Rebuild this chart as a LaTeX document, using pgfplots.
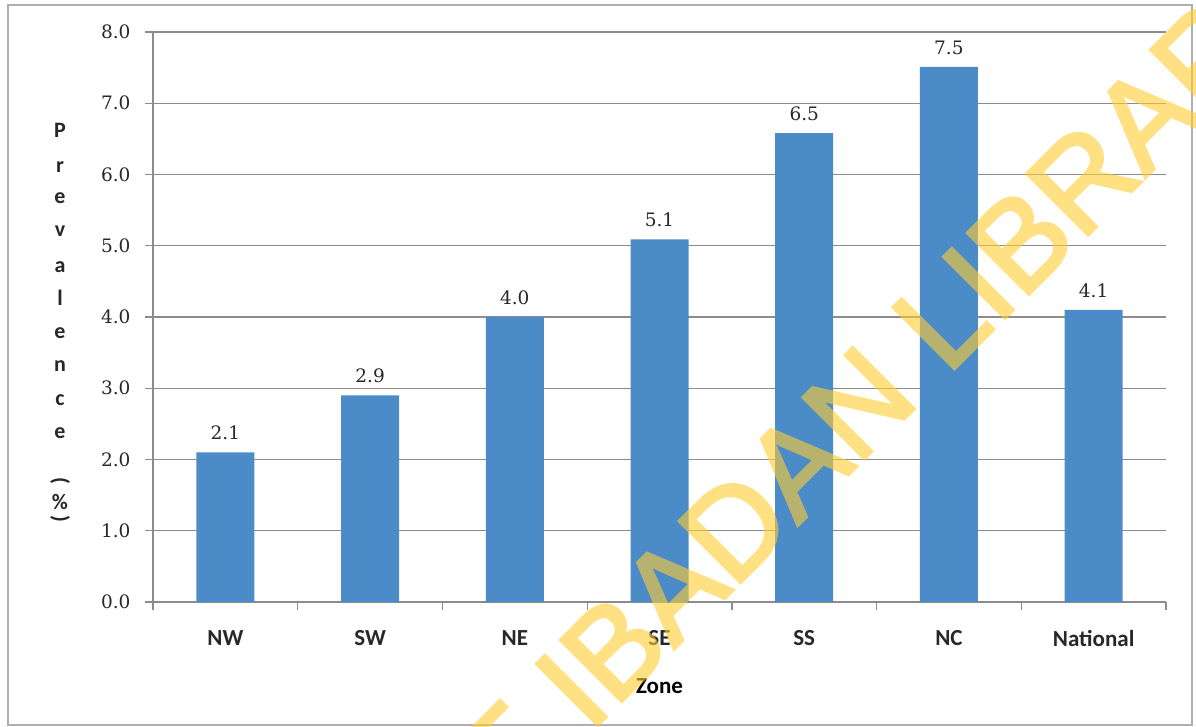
\documentclass[border=0pt]{standalone}
\usepackage{pgfplots}
\pgfplotsset{compat=1.18}
\usepackage{pgfplotstable}
\usepackage{fontspec}
\setmainfont{DejaVu Serif}
\newfontfamily\carlito{Carlito}
\newfontfamily\wmfont[FakeBold=2.5]{Liberation Sans}
\definecolor{barblue}{RGB}{75,140,200}
\definecolor{gridgray}{RGB}{140,140,140}
\definecolor{framegray}{RGB}{175,175,175}
\definecolor{wmyellow}{RGB}{255,205,50}
\definecolor{ticktext}{RGB}{40,40,40}

\pgfplotstableread{
x y label
0 2.10 2.1
1 2.90 2.9
2 4.00 4.0
3 5.09 5.1
4 6.58 6.5
5 7.51 7.5
6 4.10 4.1
}\prevdata

\begin{document}
\begin{tikzpicture}
\fill[white] (0,0) rectangle (1196pt,-727pt);
\draw[framegray, line width=2pt] (8pt,-5pt) rectangle (1192pt,-725pt);
\begin{axis}[
  at={(153pt,-602pt)}, anchor=south west,
  scale only axis, width=1013pt, height=570pt,
  xmin=-0.5, xmax=6.5, ymin=0, ymax=8,
  axis x line*=bottom, axis y line*=left,
  axis line style={gridgray, line width=1.3pt, -},
  ybar, bar width=58pt,
  xtick={0,...,6}, xticklabels={NW,SW,NE,SE,SS,NC,National},
  major x tick style={draw=none},
  minor xtick={-0.5,0.5,...,6.5},
  minor tick length=8pt, major tick length=8pt,
  tick align=outside,
  tick style={gridgray, line width=1.3pt},
  ytick={0,...,8},
  ymajorgrids, major grid style={gridgray, line width=1.3pt},
  yticklabel style={/pgf/number format/fixed, /pgf/number format/fixed zerofill, /pgf/number format/precision=1, /pgf/number format/assume math mode=true, font=\fontsize{18.5}{21}\selectfont, text=ticktext, xshift=-11pt},
  xticklabel style={font=\carlito\bfseries\fontsize{23}{25}\selectfont, text=ticktext, anchor=center, yshift=-28pt},
  xlabel={Zone},
  xlabel style={font=\carlito\bfseries\fontsize{23}{25}\selectfont, text=black, at={(axis description cs:0.5,0)}, anchor=center, yshift=-84pt},
  nodes near coords, point meta=explicit symbolic,
  nodes near coords style={font=\fontsize{18.5}{21}\selectfont, text=ticktext, inner sep=0pt, anchor=south, yshift=12pt},
]
\addplot[fill=barblue, draw=none] table[x=x, y=y, meta=label] {\prevdata};
\end{axis}
\foreach \ch/\yy in {P/130, r/167, e/198, v/231, a/267, l/298, e/333, n/366, c/400, e/433, {\rotatebox{-90}{(}}/481, {\%}/502, {\rotatebox{-90}{)}}/519}{
  \node[font=\carlito\bfseries\fontsize{22}{24}\selectfont, text=ticktext, inner sep=0pt] at (60pt,-\yy pt) {\ch};
}
\begin{scope}[transparency group, opacity=0.6]
\clip (0,0) rectangle (1196pt,-727pt);
\begin{scope}[shift={(947pt,-376pt)}, rotate=45, transform shape]
\node[anchor=base west, inner sep=0pt, text=wmyellow, font=\wmfont\fontsize{126}{130}\selectfont] at (0,0) {LIBRARY};
\node[anchor=base east, inner sep=0pt, text=wmyellow, font=\wmfont\fontsize{126}{130}\selectfont] at (-36pt,0) {UNIVERSITY OF IBADAN};
\end{scope}
\end{scope}
\pgfresetboundingbox
\useasboundingbox (0,0) rectangle (1196pt,-727pt);
\end{tikzpicture}
\end{document}
